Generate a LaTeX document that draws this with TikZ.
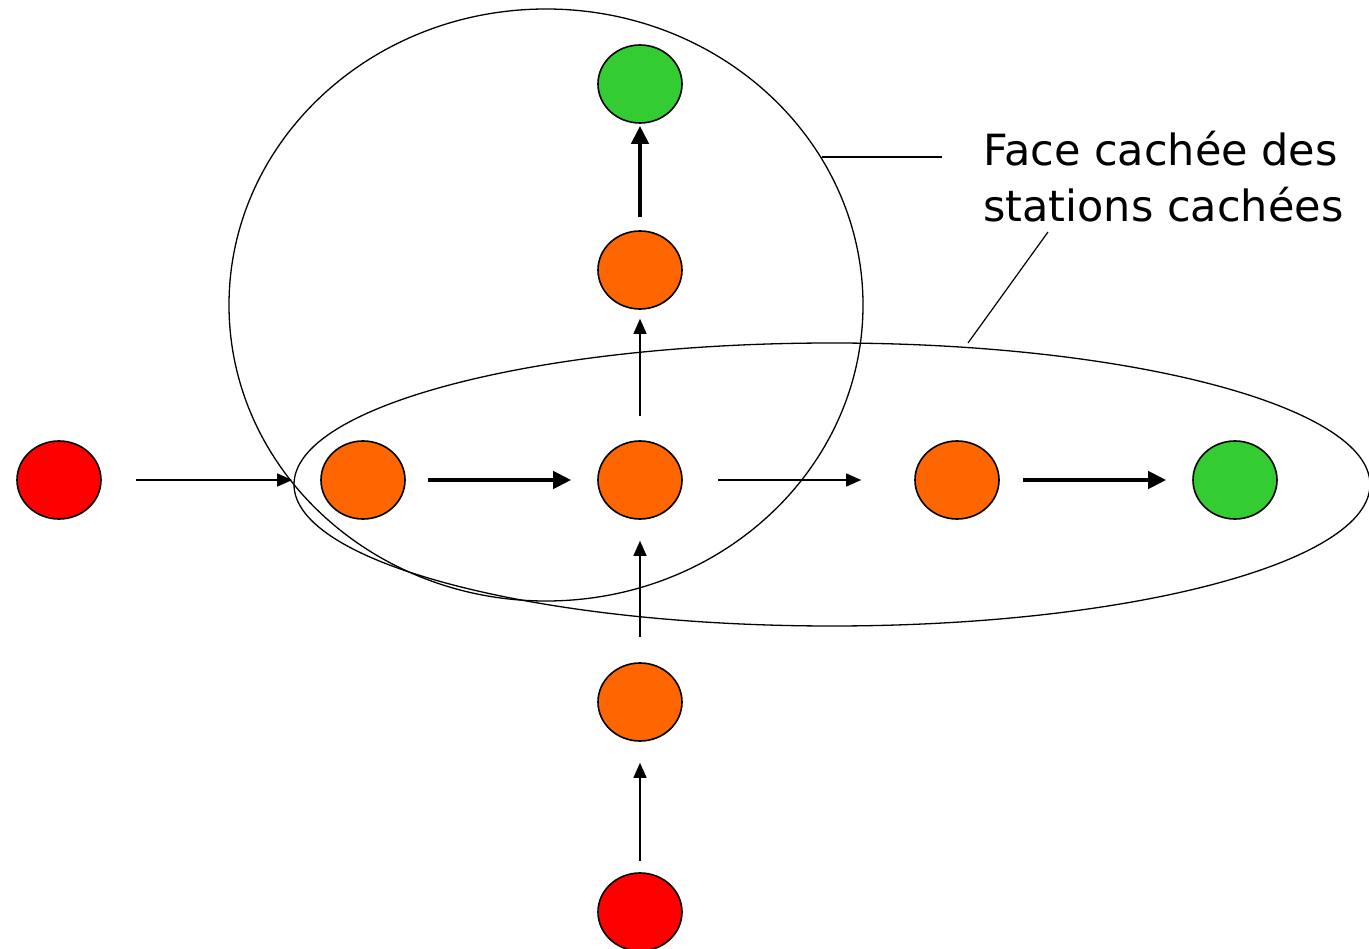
\documentclass[tikz,border=0pt]{standalone}
\usepackage{fontspec}
\setmainfont{DejaVu Sans}
\usetikzlibrary{shapes.geometric,arrows.meta}
\definecolor{stOrange}{RGB}{255,102,0}
\definecolor{stRed}{RGB}{255,0,0}
\definecolor{stGreen}{RGB}{51,204,51}
\begin{document}
\begin{tikzpicture}[x=1pt,y=-1pt,
  station/.style={ellipse,draw=black,line width=1.6pt,minimum width=84pt,minimum height=78pt,inner sep=0pt},
  thinarrow/.style={line width=1.2pt,-{Triangle[length=15pt,width=13pt]}},
  thickarrow/.style={line width=4.2pt,-{Triangle[length=18pt,width=17pt]}},
  zone/.style={ellipse,draw=black,line width=1.3pt,inner sep=0pt},
  leader/.style={line width=1.2pt}]
\useasboundingbox (0,0) rectangle (1369,949);

% zones
\node[zone,minimum width=634pt,minimum height=592pt] (hidden) at (546,305) {};
\node[zone,minimum width=1076pt,minimum height=283pt] (chain) at (832,484.5) {};

% stations
\node[station,fill=stRed]    (src1) at (59,480) {};
\node[station,fill=stOrange] (a)    at (363,480) {};
\node[station,fill=stOrange] (c)    at (640,480) {};
\node[station,fill=stOrange] (b)    at (957,480) {};
\node[station,fill=stGreen]  (dst1) at (1235,480) {};
\node[station,fill=stOrange] (up)   at (640,270) {};
\node[station,fill=stGreen]  (dst2) at (640,84) {};
\node[station,fill=stOrange] (down) at (640,702) {};
\node[station,fill=stRed]    (src2) at (640,912) {};

% transmissions
\draw[thinarrow,shorten <=34pt,shorten >=28pt] (src1) -- (a);
\draw[thickarrow,shorten <=22pt,shorten >=26pt] (a) -- (c);
\draw[thinarrow,shorten <=35pt,shorten >=53pt] (c) -- (b);
\draw[thickarrow,shorten <=23pt,shorten >=26pt] (b) -- (dst1);
\draw[thinarrow,shorten <=24pt,shorten >=9pt] (c) -- (up);
\draw[thickarrow,shorten <=13pt,shorten >=2pt] (up) -- (dst2);
\draw[thinarrow,shorten <=25pt,shorten >=21pt] (down) -- (c);
\draw[thinarrow,shorten <=11pt,shorten >=21pt] (src2) -- (down);

% label and leaders
\node[anchor=north west,align=left,font=\fontsize{43}{56}\selectfont,inner sep=0pt] (lbl) at (983,131)
  {Face cachée des\\stations cachées};
\coordinate (p1) at (822,157);
\coordinate (q1) at (942,157);
\coordinate (p2) at (968,343);
\coordinate (q2) at (1048,232);
\draw[leader] (p1) -- (q1);
\draw[leader] (p2) -- (q2);
\end{tikzpicture}
\end{document}
